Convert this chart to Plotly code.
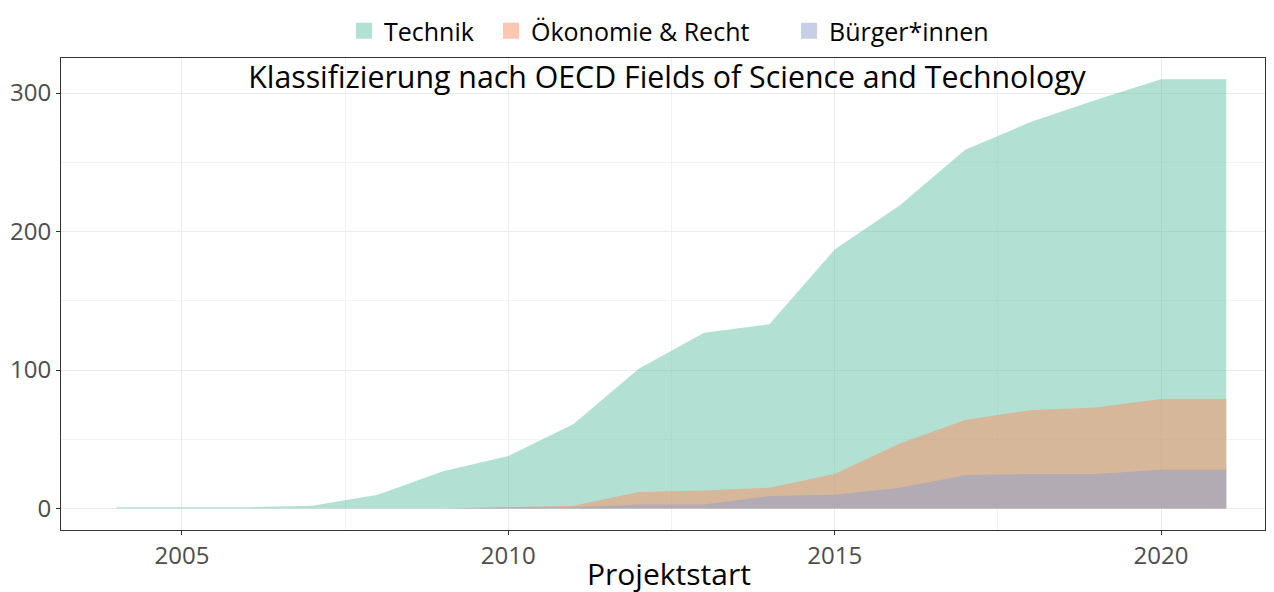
import plotly.graph_objects as go

years = list(range(2004, 2022))
technik = [1, 1, 1, 2, 10, 27, 38, 61, 101, 127, 133, 187, 219, 259, 279, 295, 310, 310]
oeko_years = list(range(2008, 2022))
oekonomie = [0, 0, 1, 2, 12, 13, 15, 25, 47, 64, 71, 73, 79, 79]
buerger = [0, 0, 1, 1, 3, 3, 9, 10, 15, 24, 25, 25, 28, 28]

names = ["Technik", "Ökonomie & Recht", "Bürger*innen"]
colors = ["rgba(102,194,165,0.5)", "rgba(252,141,98,0.5)", "rgba(141,160,203,0.5)"]
xs = [years, oeko_years, oeko_years]
ys = [technik, oekonomie, buerger]
legend_ids = ["legend", "legend2", "legend3"]
legend_x = [336, 483, 781]

FONT = "Open Sans"
W, H = 1258, 592
L, R, T, B = 53, 1, 50, 70
PH = H - T - B
fig = go.Figure()
for n, c, x, y in zip(names, colors, xs, ys):
    fig.add_trace(go.Scatter(x=x, y=y, name=n, mode="lines", fill="tozeroy",
                             fillcolor=c, line=dict(width=0, color=c), showlegend=False))
# legend entries with square keys
for n, c, lg in zip(names, colors, legend_ids):
    fig.add_trace(go.Scatter(x=[None], y=[None], name=n, mode="markers", legend=lg,
                             marker=dict(symbol="square", size=16, color=c), showlegend=True))

legend_common = dict(orientation="h", xref="container", yref="container",
                     xanchor="left", yanchor="top", y=1.0,
                     font=dict(size=25, color="black", family=FONT), itemsizing="trace",
                     bgcolor="rgba(0,0,0,0)", borderwidth=0)
layout_legends = {}
for lg, lx in zip(legend_ids, legend_x):
    layout_legends[lg] = dict(legend_common, x=lx / W)

fig.update_layout(
    width=W, height=H,
    margin=dict(l=L, r=R, t=T, b=B, autoexpand=False),
    paper_bgcolor="white", plot_bgcolor="white",
    font=dict(family=FONT, color="black"),
    title=dict(text="Klassifizierung nach OECD Fields of Science and Technology",
               x=(L + (W - L - R) / 2 + 4) / W, xanchor="center", y=1 - 69 / H, yanchor="middle",
               font=dict(size=30.3, color="black", family=FONT)),
    annotations=[dict(text="Projektstart", xref="paper", yref="paper", x=0.5, xshift=6,
                      y=(H - B - 565) / PH,
                      xanchor="center", yanchor="middle", showarrow=False,
                      font=dict(size=30, color="black", family=FONT))],
    **layout_legends,
)
fig.update_xaxes(range=[2003.147, 2021.593], tickvals=[2005, 2010, 2015, 2020], automargin=False,
                 showgrid=True, gridcolor="#ebebeb", gridwidth=1,
                 minor=dict(tickvals=[2007.5, 2012.5, 2017.5], showgrid=True, gridcolor="#f2f2f2", gridwidth=1),
                 showline=True, linecolor="#333333", linewidth=1, mirror=True,
                 ticks="outside", ticklen=4, tickcolor="#333333",
                 tickfont=dict(size=24, color="#4d4d4d"),
                 zeroline=False)
fig.update_yaxes(range=[-15.5, 325.3], tickvals=[0, 100, 200, 300], automargin=False,
                 showgrid=True, gridcolor="#ebebeb", gridwidth=1,
                 minor=dict(tickvals=[50, 150, 250], showgrid=True, gridcolor="#f2f2f2", gridwidth=1),
                 showline=True, linecolor="#333333", linewidth=1, mirror=True,
                 ticks="outside", ticklen=4, tickcolor="#333333",
                 tickfont=dict(size=24, color="#4d4d4d"),
                 zeroline=False)

fig.write_html("out.html")
